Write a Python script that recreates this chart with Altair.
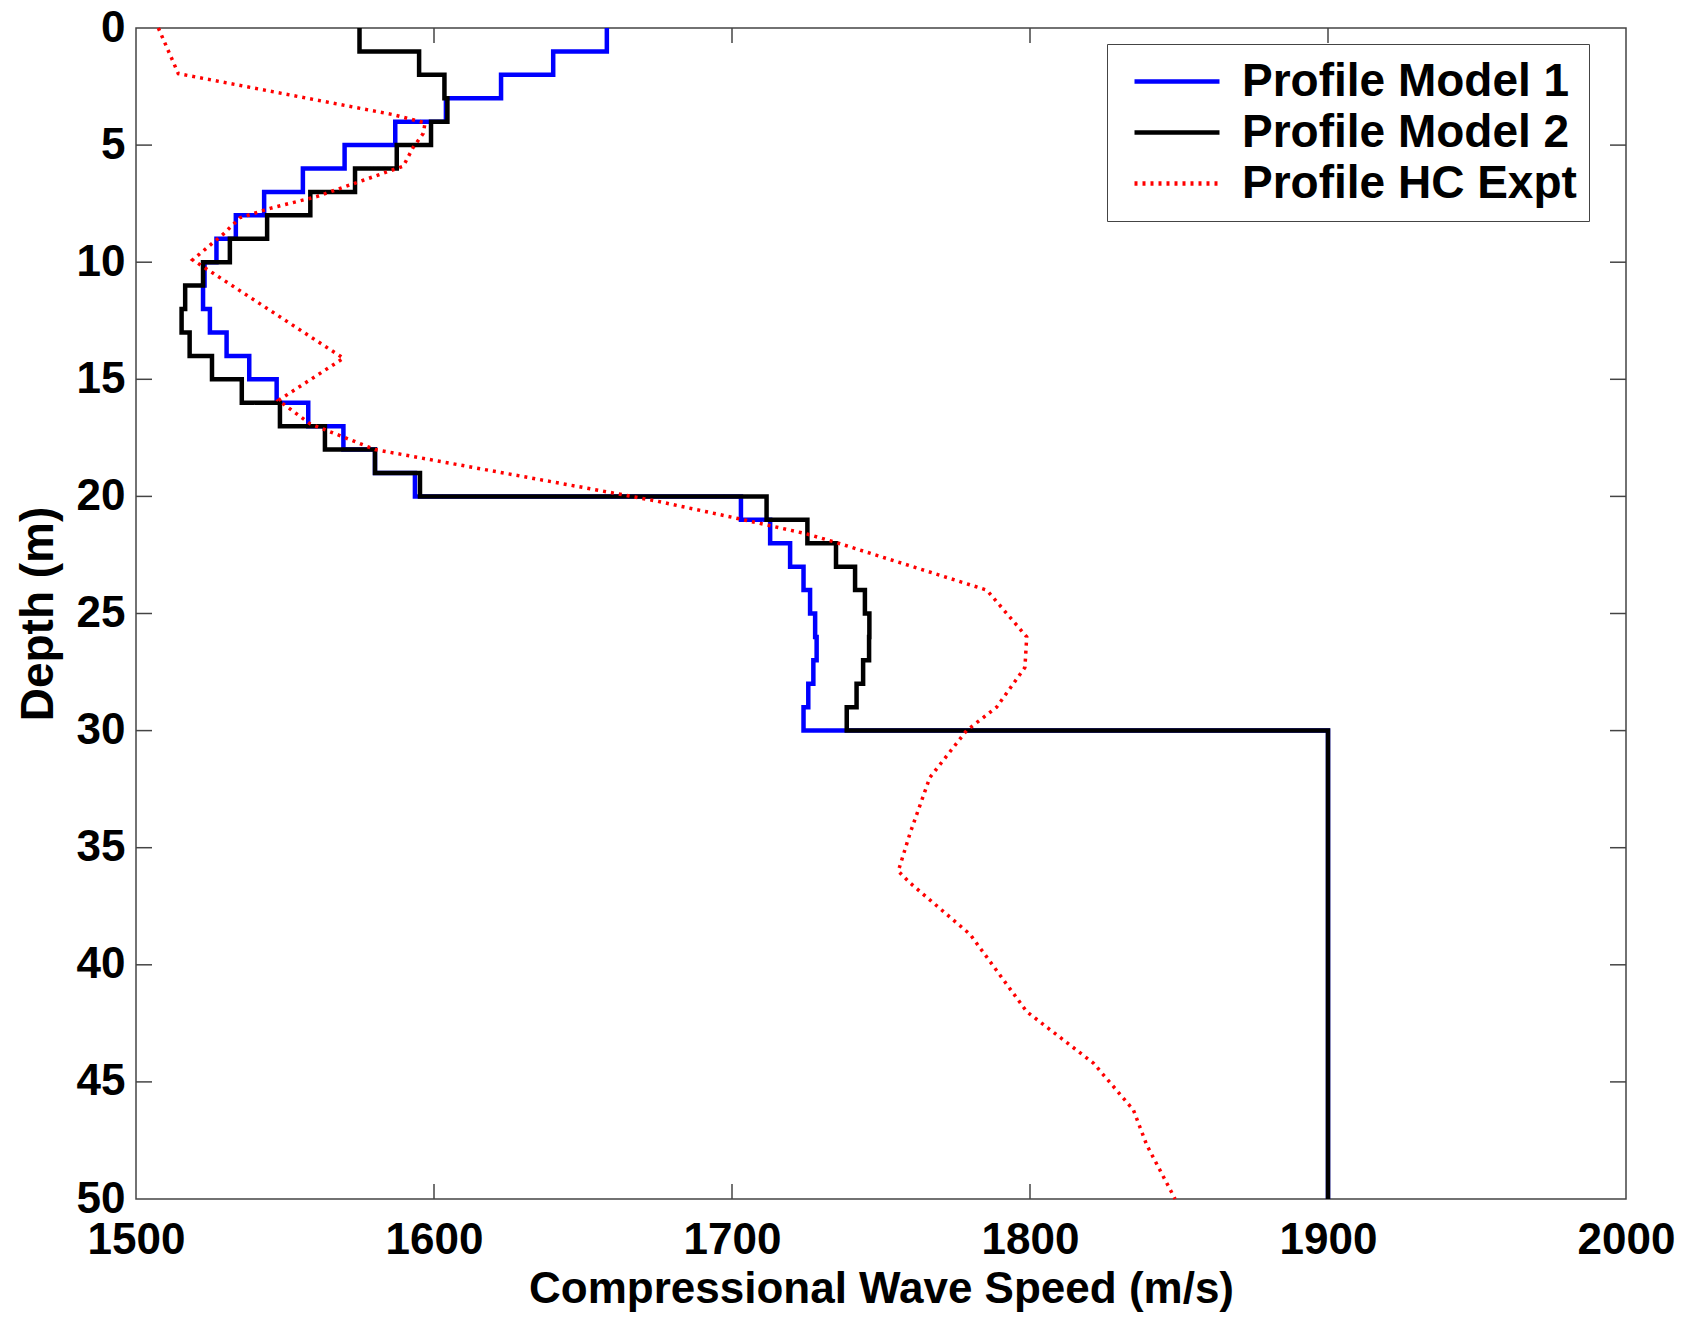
import altair as alt
import pandas as pd

# ---------------- data ----------------
names = ["Profile Model 1", "Profile Model 2", "Profile HC Expt"]

# Model 1 (blue): depth at the top of each layer (m) and its speed (m/s)
m1_depth = [0, 1, 2, 3, 4, 5, 6, 7, 8, 9, 10, 11, 12, 13, 14, 15, 16, 17, 18, 19,
            20, 21, 22, 23, 24, 25, 26, 27, 28, 29, 30, 50]
m1_speed = [1658, 1640, 1622.5, 1604, 1587, 1570, 1556, 1543, 1533.5, 1527,
            1523, 1522.5, 1524.8, 1530.4, 1538, 1547.2, 1557.8, 1569.6, 1580.2, 1593.6,
            1703, 1712.8, 1719.5, 1724, 1726.2, 1727.9, 1728.4, 1727.3, 1725.6, 1724,
            1900, 1900]

# Model 2 (black)
m2_depth = [0, 1, 2, 3, 4, 5, 6, 7, 8, 9, 10, 11, 12, 13, 14, 15, 16, 17, 18, 19,
            20, 21, 22, 23, 24, 25, 26, 27, 28, 29, 30, 50]
m2_speed = [1575, 1595, 1603.5, 1604.5, 1599, 1587.5, 1573.5, 1558.5, 1544, 1531.5,
            1522.5, 1516.5, 1515.3, 1518, 1525.5, 1535.5, 1548.3, 1563.4, 1580.2, 1595.3,
            1711.6, 1725.3, 1734.9, 1741.3, 1744.6, 1746.1, 1746, 1744, 1741.8, 1738.5,
            1900, 1900]

# HC experiment (red dotted)
hc_depth = [0, 1.95, 3.7, 4.05, 4.5, 5.1, 5.9, 6.5, 7.2, 7.7, 8.1, 8.8, 9.9,
            14.1, 15.9, 16.9, 18.0, 19.75, 20.2, 20.9, 21.6, 21.95, 24.0, 26.0, 27.3,
            29.0, 30.0, 32.0, 34.4, 36.0, 36.5, 38.7, 42.0, 44.2, 46.2, 47.7, 50.0]
hc_speed = [1507.5, 1514.2, 1586.3, 1597, 1596.4, 1593, 1589.7, 1576.3, 1560.6, 1545, 1534.9,
            1529.3, 1519, 1569.6, 1547.8, 1558.4, 1580.2, 1655.7, 1674.7, 1700.4, 1725,
            1734.5, 1785.5, 1798.9, 1798.3, 1788.8, 1778.7, 1766.4, 1759.7, 1755.8, 1759.7,
            1779.9, 1798.9, 1821.3, 1834.7, 1839.2, 1848.7]

x_label_values = [1500, 1600, 1700, 1800, 1900, 2000]
y_label_values = [0, 5, 10, 15, 20, 25, 30, 35, 40, 45, 50]
x_inner_ticks = [1600, 1700, 1800, 1900]
y_inner_ticks = [5, 10, 15, 20, 25, 30, 35, 40, 45]

# ---------------- tables ----------------
rows = []
for name, ds, vs in [(names[0], m1_depth, m1_speed),
                     (names[1], m2_depth, m2_speed),
                     (names[2], hc_depth, hc_speed)]:
    for i, (d, v) in enumerate(zip(ds, vs)):
        rows.append({"series": name, "depth": d, "speed": v, "idx": i})
df = pd.DataFrame(rows)
xt = pd.DataFrame({"speed": x_inner_ticks})
yt = pd.DataFrame({"depth": y_inner_ticks})

W, H = 1490, 1171
FONT = "Liberation Sans"
FRAME = "#444444"

xs = alt.Scale(domain=[1500, 2000], nice=False, zero=False)
ys = alt.Scale(domain=[0, 50], nice=False, zero=False, reverse=True)

xaxis = alt.Axis(values=x_label_values, format="d", title="Compressional Wave Speed (m/s)",
                 labelFont=FONT, labelFontSize=44, labelFontWeight="bold", labelColor="black",
                 labelPadding=19, labelFlush=False, labelOverlap=False,
                 ticks=False, tickSize=0, domain=False, grid=False,
                 titleFont=FONT, titleFontSize=44, titleFontWeight="bold", titleColor="black",
                 titleBaseline="alphabetic", titleX=W / 2, titleY=103)
yaxis = alt.Axis(values=y_label_values, format="d", title="Depth (m)",
                 labelFont=FONT, labelFontSize=44, labelFontWeight="bold", labelColor="black",
                 labelPadding=11, labelFlush=False, labelOverlap=False,
                 ticks=False, tickSize=0, domain=False, grid=False,
                 titleFont=FONT, titleFontSize=46, titleFontWeight="bold", titleColor="black",
                 titleBaseline="alphabetic", titleX=-83.5, titleY=H / 2)

legend = alt.Legend(orient="none", legendX=971, legendY=16, title=None,
                    labelFont=FONT, labelFontSize=46, labelFontWeight="bold", labelColor="black",
                    labelLimit=800, symbolType="stroke", symbolSize=7225, symbolStrokeWidth=4.5,
                    symbolOffset=13, labelOffset=20, padding=12, clipHeight=51, rowPadding=0,
                    strokeColor=FRAME, fillColor="white")

color_scale = alt.Scale(domain=names, range=["#0000ff", "#000000", "#ff0000"])
dash_scale = alt.Scale(domain=names, range=[[1, 0], [1, 0], [3, 5]])


def profile(name, interp, width):
    return (
        alt.Chart(df)
        .transform_filter(alt.datum.series == name)
        .mark_line(interpolate=interp, strokeWidth=width, strokeCap="butt", strokeJoin="miter")
        .encode(
            x=alt.X("speed:Q", scale=xs, axis=xaxis),
            y=alt.Y("depth:Q", scale=ys, axis=yaxis),
            order=alt.Order("idx:Q"),
            color=alt.Color("series:N", scale=color_scale, legend=legend, title=None),
            strokeDash=alt.StrokeDash("series:N", scale=dash_scale, legend=legend, title=None),
        )
    )


tick_top = alt.Chart(xt).mark_rule(color=FRAME, strokeWidth=1.5).encode(
    x=alt.X("speed:Q", scale=xs, axis=xaxis), y=alt.value(0), y2=alt.value(15))
tick_bottom = alt.Chart(xt).mark_rule(color=FRAME, strokeWidth=1.5).encode(
    x=alt.X("speed:Q", scale=xs, axis=xaxis), y=alt.value(H), y2=alt.value(H - 15))
tick_left = alt.Chart(yt).mark_rule(color=FRAME, strokeWidth=1.5).encode(
    y=alt.Y("depth:Q", scale=ys, axis=yaxis), x=alt.value(0), x2=alt.value(16))
tick_right = alt.Chart(yt).mark_rule(color=FRAME, strokeWidth=1.5).encode(
    y=alt.Y("depth:Q", scale=ys, axis=yaxis), x=alt.value(W), x2=alt.value(W - 16))

chart = (
    alt.layer(
        tick_top, tick_bottom, tick_left, tick_right,
        profile(names[0], "step-before", 4.5),
        profile(names[1], "step-before", 4.5),
        profile(names[2], "linear", 3.5),
    )
    .properties(width=W, height=H,
                autosize=alt.AutoSizeParams(type="none"),
                padding={"left": 136, "top": 28, "right": 70, "bottom": 118},
                background="white")
    .configure_view(stroke=FRAME, strokeWidth=1.5)
)

chart.save("out.html", embed_options={"renderer": "svg", "actions": False})
